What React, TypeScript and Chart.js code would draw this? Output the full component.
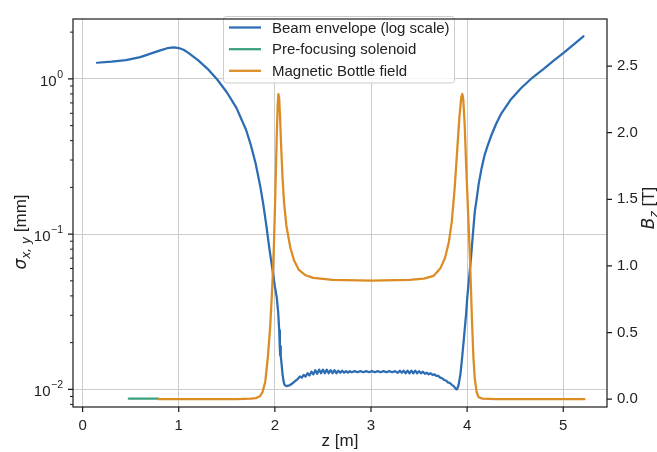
import React, { useEffect, useRef } from 'react';
import { Chart, registerables } from 'chart.js';

Chart.register(...registerables);

// ---------- data ----------
const envZ = [
  0.15, 0.3, 0.45, 0.6, 0.7, 0.8, 0.88, 0.95, 1.0, 1.05, 1.1, 1.2, 1.3, 1.4, 1.5, 1.6, 1.7, 1.75, 1.8, 1.85,
  1.88, 1.91, 1.94, 1.97, 2.0, 2.02, 2.035, 2.045, 2.052, 2.056, 2.059, 2.063, 2.07, 2.08, 2.09, 2.1, 2.12,
  2.15, 2.18, 2.21, 2.24, 2.26, 2.28, 2.3, 2.32, 2.34, 2.36, 2.38, 2.4, 2.42, 2.44, 2.46, 2.48, 2.5, 2.52,
  2.54, 2.56, 2.58, 2.6, 2.62, 2.64, 2.66, 2.68, 2.7, 2.72, 2.74, 2.76, 2.78, 2.8, 2.83, 2.86, 2.89, 2.92,
  2.95, 2.98, 3.01, 3.04, 3.07, 3.1, 3.13, 3.16, 3.19, 3.22, 3.25, 3.28, 3.3, 3.32, 3.34, 3.36, 3.38, 3.4,
  3.42, 3.44, 3.46, 3.48, 3.5, 3.52, 3.54, 3.56, 3.58, 3.6, 3.62, 3.64, 3.66, 3.68, 3.7, 3.72, 3.74, 3.76,
  3.78, 3.8, 3.82, 3.84, 3.86, 3.88, 3.895, 3.91, 3.93, 3.95, 3.97, 3.99, 4.0, 4.02, 4.04, 4.06, 4.08, 4.1,
  4.12, 4.15, 4.18, 4.21, 4.25, 4.3, 4.35, 4.45, 4.56, 4.68, 4.8, 4.9, 5.01, 5.11, 5.21,
];
const envSigma = [
  1.27, 1.29, 1.32, 1.38, 1.45, 1.52, 1.575, 1.595, 1.58, 1.54, 1.47, 1.32, 1.16, 0.99, 0.82, 0.65, 0.47, 0.375, 0.285, 0.2,
  0.155, 0.115, 0.083, 0.062, 0.046, 0.039, 0.031, 0.024, 0.018, 0.0165, 0.019, 0.0165, 0.0145, 0.0125, 0.0113, 0.0107, 0.0105,
  0.0106, 0.0109, 0.0113, 0.0117, 0.0121, 0.0119, 0.0124, 0.0121, 0.0127, 0.0123, 0.013, 0.0125, 0.0133, 0.0126, 0.0134, 0.0127, 0.0134, 0.0127,
  0.0134, 0.0127, 0.0133, 0.0127, 0.0133, 0.0127, 0.0132, 0.0128, 0.0132, 0.0128, 0.0131, 0.0128, 0.0131, 0.0129, 0.0131, 0.0129, 0.0131, 0.0129,
  0.0131, 0.0129, 0.0131, 0.0129, 0.0131, 0.0129, 0.0131, 0.0129, 0.0131, 0.0129, 0.0131, 0.0128, 0.0132, 0.0128, 0.0132, 0.0127, 0.0132, 0.0127,
  0.0132, 0.0127, 0.0132, 0.0127, 0.0131, 0.0127, 0.013, 0.0126, 0.0128, 0.0125, 0.0127, 0.0124, 0.0125, 0.0122, 0.0122, 0.0119, 0.0118, 0.0115,
  0.0114, 0.0111, 0.011, 0.0107, 0.0105, 0.0101, 0.01, 0.0106, 0.0125, 0.0165, 0.0225, 0.031, 0.038, 0.052, 0.07, 0.1, 0.14, 0.17,
  0.21, 0.265, 0.32, 0.366, 0.43, 0.51, 0.59, 0.73, 0.87, 1.02, 1.165, 1.31, 1.48, 1.67, 1.88,
];

const solZ = [0.48, 0.6, 0.79];
const solB = [0.005, 0.005, 0.005];

const botZ = [
  0.79, 1.2, 1.6, 1.75, 1.8, 1.84, 1.87, 1.9, 1.925, 1.95, 1.97, 1.99, 2.005, 2.02, 2.03, 2.037, 2.045, 2.055,
  2.065, 2.08, 2.095, 2.12, 2.16, 2.2, 2.25, 2.32, 2.4, 2.6, 3.0, 3.4, 3.55, 3.65, 3.72, 3.77, 3.81, 3.84,
  3.87, 3.895, 3.92, 3.94, 3.95, 3.96, 3.975, 3.99, 4.01, 4.03, 4.05, 4.065, 4.08, 4.1, 4.12, 4.16, 4.3, 4.6, 5.22,
];
const botB = [
  0.0, 0.0, 0.001, 0.004, 0.008, 0.02, 0.05, 0.13, 0.3, 0.53, 0.8, 1.15, 1.55, 1.99, 2.22, 2.29, 2.26, 2.1,
  1.9, 1.66, 1.48, 1.3, 1.14, 1.04, 0.97, 0.93, 0.91, 0.895, 0.89, 0.895, 0.905, 0.925, 0.98, 1.06, 1.18, 1.33,
  1.58, 1.85, 2.12, 2.27, 2.29, 2.25, 2.05, 1.75, 1.4, 1.05, 0.6, 0.32, 0.15, 0.05, 0.015, 0.004, 0.001, 0.0, 0.0,
];

const xTicks = [0, 1, 2, 3, 4, 5];
const bzTicks = [0, 0.5, 1.0, 1.5, 2.0, 2.5];
const logMajor = [0.01, 0.1, 1];
const logExponents = ['\u22122', '\u22121', '0'];
const logMinor = [0.008, 0.009, 0.02, 0.03, 0.04, 0.05, 0.06, 0.07, 0.08, 0.09, 0.2, 0.3, 0.4, 0.5, 0.6, 0.7, 0.8, 0.9, 2];
const legendLabels = ['Beam envelope (log scale)', 'Pre-focusing solenoid', 'Magnetic Bottle field'];

// ---------- styles ----------
const BLUE = '#2b6cb2';
const GREEN = '#3b9f7e';
const ORANGE = '#dc8c22';
const GRID = '#cccccc';
const TEXT = '#222222';
const SANS = "'Liberation Sans', Arial, 'DejaVu Sans', sans-serif";
const MATH = "'DejaVu Sans', sans-serif";
const LW = 2.25;

const isMajor = (v: number) => logMajor.some((m) => Math.abs(m - v) / m < 1e-6);

const decorPlugin = {
  id: 'decor',
  afterDatasetsDraw(chart: any) {
    const { ctx, chartArea: a, scales } = chart;
    ctx.save();

    // legend
    const lx = 223.5, ly = 16.5, lw = 231, lh = 66.5, r = 3;
    ctx.beginPath();
    ctx.moveTo(lx + r, ly);
    ctx.lineTo(lx + lw - r, ly);
    ctx.quadraticCurveTo(lx + lw, ly, lx + lw, ly + r);
    ctx.lineTo(lx + lw, ly + lh - r);
    ctx.quadraticCurveTo(lx + lw, ly + lh, lx + lw - r, ly + lh);
    ctx.lineTo(lx + r, ly + lh);
    ctx.quadraticCurveTo(lx, ly + lh, lx, ly + lh - r);
    ctx.lineTo(lx, ly + r);
    ctx.quadraticCurveTo(lx, ly, lx + r, ly);
    ctx.closePath();
    ctx.fillStyle = 'rgba(255,255,255,0.8)';
    ctx.fill();
    ctx.strokeStyle = GRID;
    ctx.lineWidth = 1;
    ctx.stroke();
    const cols = [BLUE, GREEN, ORANGE];
    const rows = [27.5, 49.2, 70.8];
    ctx.font = `15px ${SANS}`;
    ctx.textBaseline = 'middle';
    ctx.textAlign = 'left';
    for (let i = 0; i < 3; i++) {
      ctx.strokeStyle = cols[i];
      ctx.lineWidth = LW;
      ctx.beginPath();
      ctx.moveTo(229, rows[i]);
      ctx.lineTo(261, rows[i]);
      ctx.stroke();
      ctx.fillStyle = TEXT;
      ctx.fillText(legendLabels[i], 272, rows[i] + 1);
    }

    // frame
    ctx.strokeStyle = '#1a1a1a';
    ctx.lineWidth = 1.2;
    ctx.strokeRect(a.left, a.top, a.right - a.left, a.bottom - a.top);

    // tick marks
    ctx.lineWidth = 1.2;
    ctx.beginPath();
    for (const v of xTicks) {
      const p = scales.x.getPixelForValue(v);
      ctx.moveTo(p, a.bottom);
      ctx.lineTo(p, a.bottom + 5);
    }
    for (const v of logMajor) {
      const p = scales.y.getPixelForValue(v);
      ctx.moveTo(a.left - 5, p);
      ctx.lineTo(a.left, p);
    }
    for (const v of bzTicks) {
      const p = scales.y1.getPixelForValue(v);
      ctx.moveTo(a.right, p);
      ctx.lineTo(a.right + 5, p);
    }
    ctx.stroke();
    ctx.lineWidth = 1;
    ctx.beginPath();
    for (const v of logMinor) {
      const p = scales.y.getPixelForValue(v);
      ctx.moveTo(a.left - 3, p);
      ctx.lineTo(a.left, p);
    }
    ctx.stroke();

    // log tick labels: 10 with a raised exponent
    ctx.fillStyle = TEXT;
    ctx.textBaseline = 'alphabetic';
    ctx.textAlign = 'right';
    logMajor.forEach((v, i) => {
      const p = scales.y.getPixelForValue(v);
      const right = a.left - 10;
      ctx.font = `10.5px ${SANS}`;
      const ew = ctx.measureText(logExponents[i]).width;
      ctx.fillText(logExponents[i], right, p - 1);
      ctx.font = `15px ${SANS}`;
      ctx.fillText('10', right - ew - 0.5, p + 7);
    });

    // axis titles
    ctx.textAlign = 'left';
    ctx.font = `17px ${SANS}`;
    const xt = 'z [m]';
    const xw = ctx.measureText(xt).width;
    ctx.fillText(xt, (a.left + a.right) / 2 - xw / 2, 446);

    const drawRotated = (cx: number, cy: number, parts: { t: string; f: string; dy: number }[]) => {
      ctx.save();
      ctx.translate(cx, cy);
      ctx.rotate(-Math.PI / 2);
      let total = 0;
      for (const p of parts) {
        ctx.font = p.f;
        total += ctx.measureText(p.t).width;
      }
      let x = -total / 2;
      for (const p of parts) {
        ctx.font = p.f;
        ctx.fillText(p.t, x, p.dy);
        x += ctx.measureText(p.t).width;
      }
      ctx.restore();
    };
    drawRotated(26, 232, [
      { t: '\u03C3', f: `oblique 17px ${MATH}`, dy: 0 },
      { t: 'x, y', f: `oblique 12px ${MATH}`, dy: 4 },
      { t: ' [mm]', f: `17px ${SANS}`, dy: 0 },
    ]);
    drawRotated(654, 208, [
      { t: 'B', f: `oblique 17px ${MATH}`, dy: 0 },
      { t: 'z', f: `oblique 12px ${MATH}`, dy: 4 },
      { t: ' [T]', f: `17px ${SANS}`, dy: 0 },
    ]);

    ctx.restore();
  },
};

export default function App() {
  const ref = useRef<HTMLCanvasElement | null>(null);

  useEffect(() => {
    if (!ref.current) return;
    const tickFont = { family: SANS, size: 15 };
    const chart = new Chart(ref.current, {
      type: 'line',
      data: {
        datasets: [
          {
            label: legendLabels[0],
            data: envZ.map((z, i) => ({ x: z, y: envSigma[i] })),
            borderColor: BLUE,
            borderWidth: LW,
            pointRadius: 0,
            fill: false,
            tension: 0,
            yAxisID: 'y',
            order: 3,
          },
          {
            label: legendLabels[1],
            data: solZ.map((z, i) => ({ x: z, y: solB[i] })),
            borderColor: GREEN,
            borderWidth: LW,
            pointRadius: 0,
            fill: false,
            tension: 0,
            yAxisID: 'y1',
            order: 2,
          },
          {
            label: legendLabels[2],
            data: botZ.map((z, i) => ({ x: z, y: botB[i] })),
            borderColor: ORANGE,
            borderWidth: LW,
            pointRadius: 0,
            fill: false,
            tension: 0,
            yAxisID: 'y1',
            order: 1,
          },
        ],
      },
      options: {
        animation: false,
        responsive: true,
        maintainAspectRatio: false,
        devicePixelRatio: 1,
        layout: { padding: { top: 9, left: 0, right: 0, bottom: 0 } },
        plugins: { legend: { display: false }, tooltip: { enabled: false } },
        elements: { line: { borderCapStyle: 'round', borderJoinStyle: 'round' } },
        scales: {
          x: {
            type: 'linear',
            min: -0.1,
            max: 5.455,
            afterBuildTicks: (s: any) => {
              s.ticks = xTicks.map((v) => ({ value: v }));
            },
            afterFit: (s: any) => {
              s.height = 45;
            },
            grid: { color: GRID, lineWidth: 1, drawTicks: false },
            border: { display: false },
            ticks: {
              padding: 10,
              autoSkip: false,
              maxRotation: 0,
              font: tickFont,
              color: TEXT,
              callback: (v: any) => String(v),
            },
          },
          y: {
            type: 'logarithmic',
            position: 'left',
            min: 0.0077,
            max: 2.43,
            afterBuildTicks: (s: any) => {
              s.ticks = [...logMajor, ...logMinor].sort((p, q) => p - q).map((v) => ({ value: v, major: isMajor(v) }));
            },
            afterFit: (s: any) => {
              s.width = 73;
            },
            grid: {
              color: (c: any) => (c.tick && isMajor(c.tick.value) ? GRID : 'rgba(0,0,0,0)'),
              lineWidth: 1,
              drawTicks: false,
            },
            border: { display: false },
            ticks: { display: false },
          },
          y1: {
            type: 'linear',
            position: 'right',
            min: -0.0585,
            max: 2.853,
            afterBuildTicks: (s: any) => {
              s.ticks = bzTicks.map((v) => ({ value: v }));
            },
            afterFit: (s: any) => {
              s.width = 50;
            },
            grid: { drawOnChartArea: false, drawTicks: false },
            border: { display: false },
            ticks: {
              padding: 10,
              autoSkip: false,
              font: tickFont,
              color: TEXT,
              callback: (v: any) => Number(v).toFixed(1),
            },
          },
        },
      } as any,
      plugins: [decorPlugin],
    });
    return () => chart.destroy();
  }, []);

  return (
    <div style={{ position: 'fixed', left: 0, top: 0, width: 657, height: 452, background: '#fff' }}>
      <canvas ref={ref} />
    </div>
  );
}
